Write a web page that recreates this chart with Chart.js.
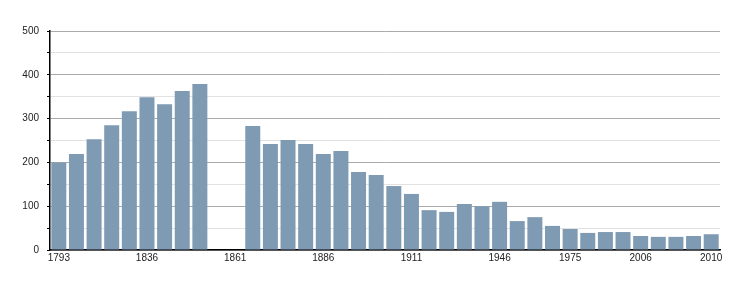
<!DOCTYPE html>
<html>
<head>
<meta charset="utf-8">
<script src="https://cdn.jsdelivr.net/npm/chart.js@4/dist/chart.umd.min.js"></script>
<style>
  html, body { margin: 0; padding: 0; background: #fff; }
  #wrap { width: 750px; height: 300px; }
</style>
</head>
<body>
<div id="wrap"><canvas id="popChart" width="750" height="300"></canvas></div>
<script>
// census years (one bar slot each)
const years = [
    '1793', '1800', '1806', '1821', '1831', '1836', '1841', '1846', '1851', '1856',
    '1861', '1866', '1872', '1876', '1881', '1886', '1891', '1896', '1901', '1906',
    '1911', '1921', '1926', '1931', '1936', '1946', '1954', '1962', '1968', '1975',
    '1982', '1990', '1999', '2006', '2007', '2008', '2009', '2010'
];
// population (null = no data)
const population = [
    200, 219, 253, 285, 317, 349, 333, 363, 379, null,
    null, 283, 242, 251, 242, 219, 226, 178, 171, 146,
    128, 91, 87, 105, 100, 110, 66, 75, 55, 48,
    39, 41, 41, 32, 30, 30, 32, 36
];
// years that get a label on the x axis
const labelYears = ['1793', '1836', '1861', '1886', '1911', '1946', '1975', '2006', '2010'];
const yTicks = [0, 100, 200, 300, 400, 500];

const ctx = document.getElementById('popChart').getContext('2d');
const chart = new Chart(ctx, {
    type: 'bar',
    data: {
        labels: years,
        datasets: [{
            data: population,
            backgroundColor: '#7f9ab3',
            borderWidth: 0,
            categoryPercentage: 1,
            barPercentage: 0.85
        }]
    },
    options: {
        responsive: false,
        animation: false,
        layout: { padding: { left: 0, right: 30, top: 31, bottom: 0 } },
        plugins: {
            legend: { display: false },
            tooltip: { enabled: false }
        },
        scales: {
            x: {
                grid: { display: false, drawTicks: false, tickLength: 0 },
                border: { display: true, color: '#000', width: 1.5 },
                ticks: {
                    autoSkip: false,
                    maxRotation: 0,
                    padding: 2,
                    color: '#222',
                    font: { family: 'Liberation Sans', size: 10 },
                    callback: (v, i) => labelYears.includes(years[i]) ? years[i] : ''
                },
                afterFit: (s) => { s.height = 50; }
            },
            y: {
                min: 0,
                max: 500,
                ticks: {
                    stepSize: 50,
                    autoSkip: false,
                    padding: 8,
                    color: '#222',
                    font: { family: 'Liberation Sans', size: 10 },
                    callback: (v) => yTicks.includes(v) ? String(v) : ''
                },
                grid: {
                    color: (c) => c.tick && c.tick.value % 100 === 0 ? '#aaaaaa' : '#e2e2e2',
                    tickColor: '#000',
                    tickLength: 3,
                    lineWidth: 1
                },
                border: { display: true, color: '#000', width: 1.5 },
                afterFit: (s) => { s.width = 50; }
            }
        }
    }
});
</script>
</body>
</html>
